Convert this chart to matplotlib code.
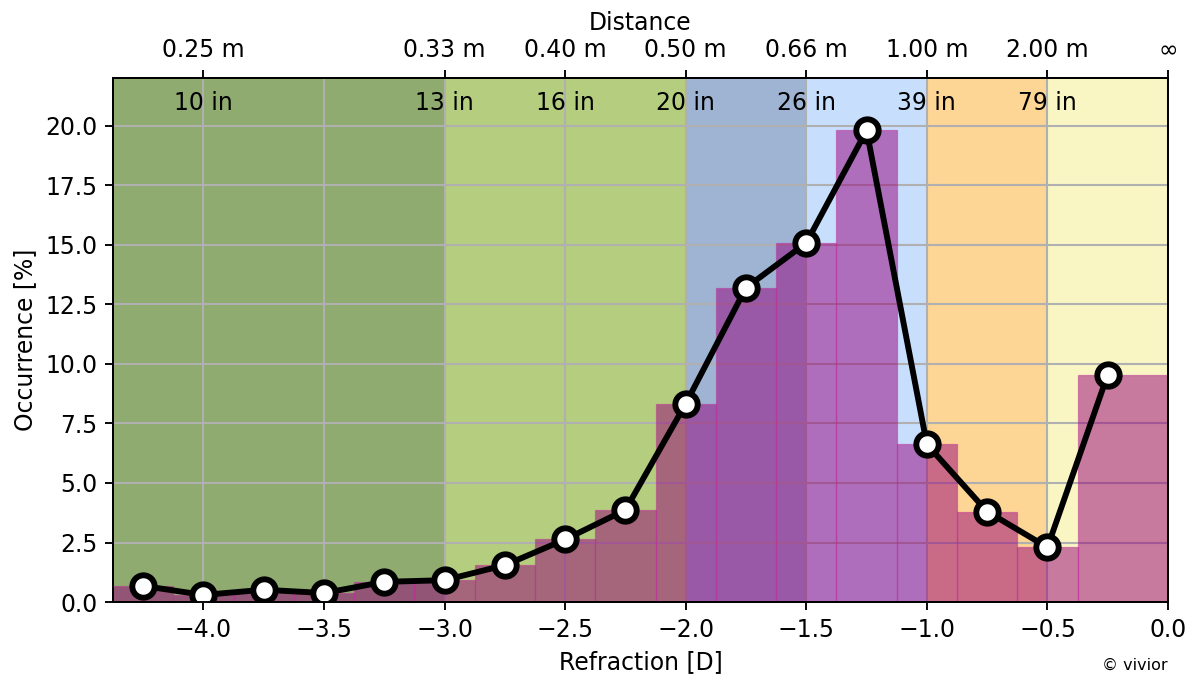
import numpy as np
import matplotlib
matplotlib.use("Agg")
import matplotlib.pyplot as plt

# refraction bins (D) and occurrence (%)
refraction = [-4.25, -4.0, -3.75, -3.5, -3.25, -3.0, -2.75, -2.5, -2.25,
              -2.0, -1.75, -1.5, -1.25, -1.0, -0.75, -0.5, -0.25]
occurrence = [0.68, 0.3, 0.52, 0.38, 0.85, 0.92, 1.55, 2.63, 3.87,
              8.33, 13.2, 15.08, 19.8, 6.62, 3.8, 2.3, 9.55]
# histogram bin edges (last bin runs up to 0 D)
bin_edges = [-4.375, -4.125, -3.875, -3.625, -3.375, -3.125, -2.875, -2.625,
             -2.375, -2.125, -1.875, -1.625, -1.375, -1.125, -0.875, -0.625,
             -0.375, 0.0]

# distance zones (background bands)
zone_edges = [-4.375, -3.0, -2.0, -1.5, -1.0, -0.5, 0.0]
zone_colors = ["#8fab70", "#b5cd7e", "#9fb4d3", "#c8defd", "#fdd594", "#f9f6c4"]

# top axis: distance labels
dist_ticks = [-4.0, -3.0, -2.5, -2.0, -1.5, -1.0, -0.5, 0.0]
dist_m = ["0.25 m", "0.33 m", "0.40 m", "0.50 m", "0.66 m", "1.00 m", "2.00 m", "∞"]
dist_in = ["10 in", "13 in", "16 in", "20 in", "26 in", "39 in", "79 in"]

s = 1.13
plt.rcParams.update({
    "font.size": 10 * s,
    "axes.linewidth": 0.8 * s,
    "xtick.major.size": 3.5 * s,
    "ytick.major.size": 3.5 * s,
    "xtick.major.width": 0.8 * s,
    "ytick.major.width": 0.8 * s,
})

fig = plt.figure(figsize=(1196 / 150, 675 / 150), dpi=150)
ax = fig.add_axes([0.0945, 0.108, 0.8821, 0.7764])

for x0, x1, c in zip(zone_edges[:-1], zone_edges[1:], zone_colors):
    ax.axvspan(x0, x1, color=c, lw=0, zorder=0)

ax.set_axisbelow(True)
ax.grid(True, color="#b0b0b0", lw=1.0, zorder=1)

left = np.array(bin_edges[:-1])
widths = np.diff(bin_edges)
ax.bar(left, occurrence, width=widths, align="edge", color="#96007a", alpha=0.5,
       edgecolor="#c0309c", linewidth=0.6, zorder=2)
ax.plot(refraction, occurrence, color="black", lw=2.5 * s, marker="o",
        markersize=9.5 * s, markerfacecolor="white", markeredgecolor="black",
        markeredgewidth=2.5 * s, zorder=3)

ax.set_xlim(-4.375, 0.0)
ax.set_ylim(0, 22)
ax.set_xticks(np.arange(-4.0, 0.01, 0.5))
ax.set_yticks(np.arange(0, 20.01, 2.5))
ax.set_xlabel("Refraction [D]")
ax.set_ylabel("Occurrence [%]")

top = ax.twiny()
top.set_xlim(ax.get_xlim())
top.set_xticks(dist_ticks)
top.set_xticklabels(dist_m)
top.set_xlabel("Distance")
top.grid(False)

for x, lab in zip(dist_ticks[:-1], dist_in):
    ax.text(x, 20.95, lab, ha="center", va="center", zorder=4)

fig.text(0.9766, 0.015, "© vivior", ha="right", va="center", fontsize=7.7)

fig.savefig("out.png", dpi=150)
